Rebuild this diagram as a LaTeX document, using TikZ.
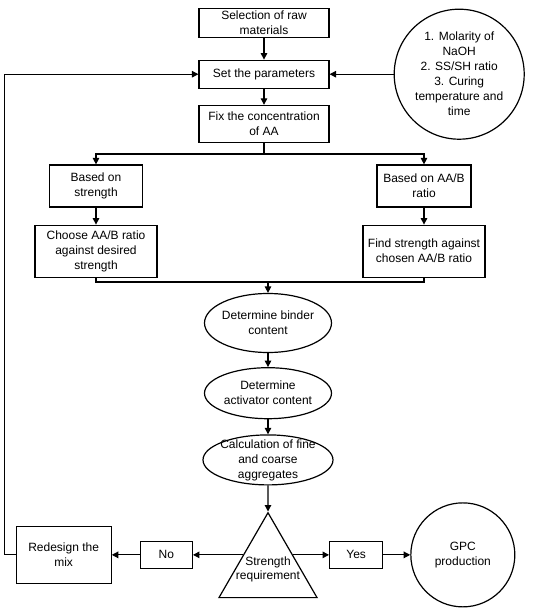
\documentclass[tikz,border=0pt]{standalone}
\usepackage{fontspec}
\setmainfont{Liberation Sans}
\usetikzlibrary{shapes.geometric, arrows.meta, positioning}

\begin{document}
\begin{tikzpicture}[
  x=1pt, y=-1pt, line width=1.2pt,
  font=\fontsize{12}{15}\selectfont,
  box/.style={draw, align=center, inner sep=2pt, minimum width=130pt},
  oval/.style={draw, ellipse, align=center, inner sep=-12pt, minimum width=127pt, minimum height=55pt},
  round/.style={draw, circle, align=center, inner sep=0pt},
  tri/.style={draw, regular polygon, regular polygon sides=3, inner sep=-12pt, minimum size=111pt, align=center},
  arr/.style={-{Triangle[length=6.5pt, width=6.5pt]}}
]
  \useasboundingbox (0,0) rectangle (550,610);
  % main column
  \node[box, minimum height=29pt] at (264,23) (sel) {Selection of raw\\materials};
  \node[box, minimum height=28pt, below=21.5pt of sel] (par) {Set the parameters};
  \node[box, minimum height=37pt, below=16pt of par] (fix) {Fix the concentration\\of AA};
  \node[round, minimum size=130pt, right=64pt of par] (cond) {1. Molarity of\\NaOH\\2. SS/SH ratio\\3. Curing\\temperature and\\time};
  % two routes
  \node[box, minimum width=93pt, minimum height=42pt] at (96,186) (bstr) {Based on\\strength};
  \node[box, minimum width=94pt, minimum height=42pt] at (424,186) (bratio) {Based on AA/B\\ratio};
  \node[box, minimum width=122pt, minimum height=52pt, below=17pt of bstr] (choose) {Choose AA/B ratio\\against desired\\strength};
  \node[box, minimum width=122pt, minimum height=52pt, below=17pt of bratio] (find) {Find strength against\\chosen AA/B ratio};
  % mix design
  \node[oval, minimum height=59pt] at (268,323) (binder) {Determine binder\\content};
  \node[oval, minimum height=51pt, below=14pt of binder] (activ) {Determine\\activator content};
  \node[oval, minimum width=130pt, minimum height=50pt, below=15pt of activ] (calc) {Calculation of fine\\and coarse\\aggregates};
  \node[tri, below=26pt of calc] (req) {Strength\\[-1pt]requirement};
  \node[box, minimum width=52pt, minimum height=27pt, left=50pt of req.side 1] (no) {No};
  \node[box, minimum width=95pt, minimum height=57pt, left=28pt of no] (redo) {Redesign the\\mix};
  \node[box, minimum width=53pt, minimum height=27pt, right=36pt of req.side 3] (yes) {Yes};
  \node[round, minimum size=104pt, right=27pt of yes] (gpc) {GPC\\production};

  \coordinate[below=11pt of fix] (split);
  \coordinate[above=11pt of binder] (merge);

  \draw[arr] (sel) -- (par);
  \draw[arr] (par) -- (fix);
  \draw[arr] (cond) -- (par);
  \draw (fix) -- (split);
  \draw[arr] (split) -| (bstr);
  \draw[arr] (split) -| (bratio);
  \draw[arr] (bstr) -- (choose);
  \draw[arr] (bratio) -- (find);
  \draw (choose) |- (merge) -| (find);
  \draw[arr] (merge) -- (binder);
  \draw[arr] (binder) -- (activ);
  \draw[arr] (activ) -- (calc);
  \draw[arr] (calc) -- (req);
  \draw[arr] (req.side 1) -- (no);
  \draw[arr] (no) -- (redo);
  \draw[arr] (req.side 3) -- (yes);
  \draw[arr] (yes) -- (gpc);
  \draw[arr] (redo.west) -- ++(-11,0) |- (par.west);
\end{tikzpicture}
\end{document}
